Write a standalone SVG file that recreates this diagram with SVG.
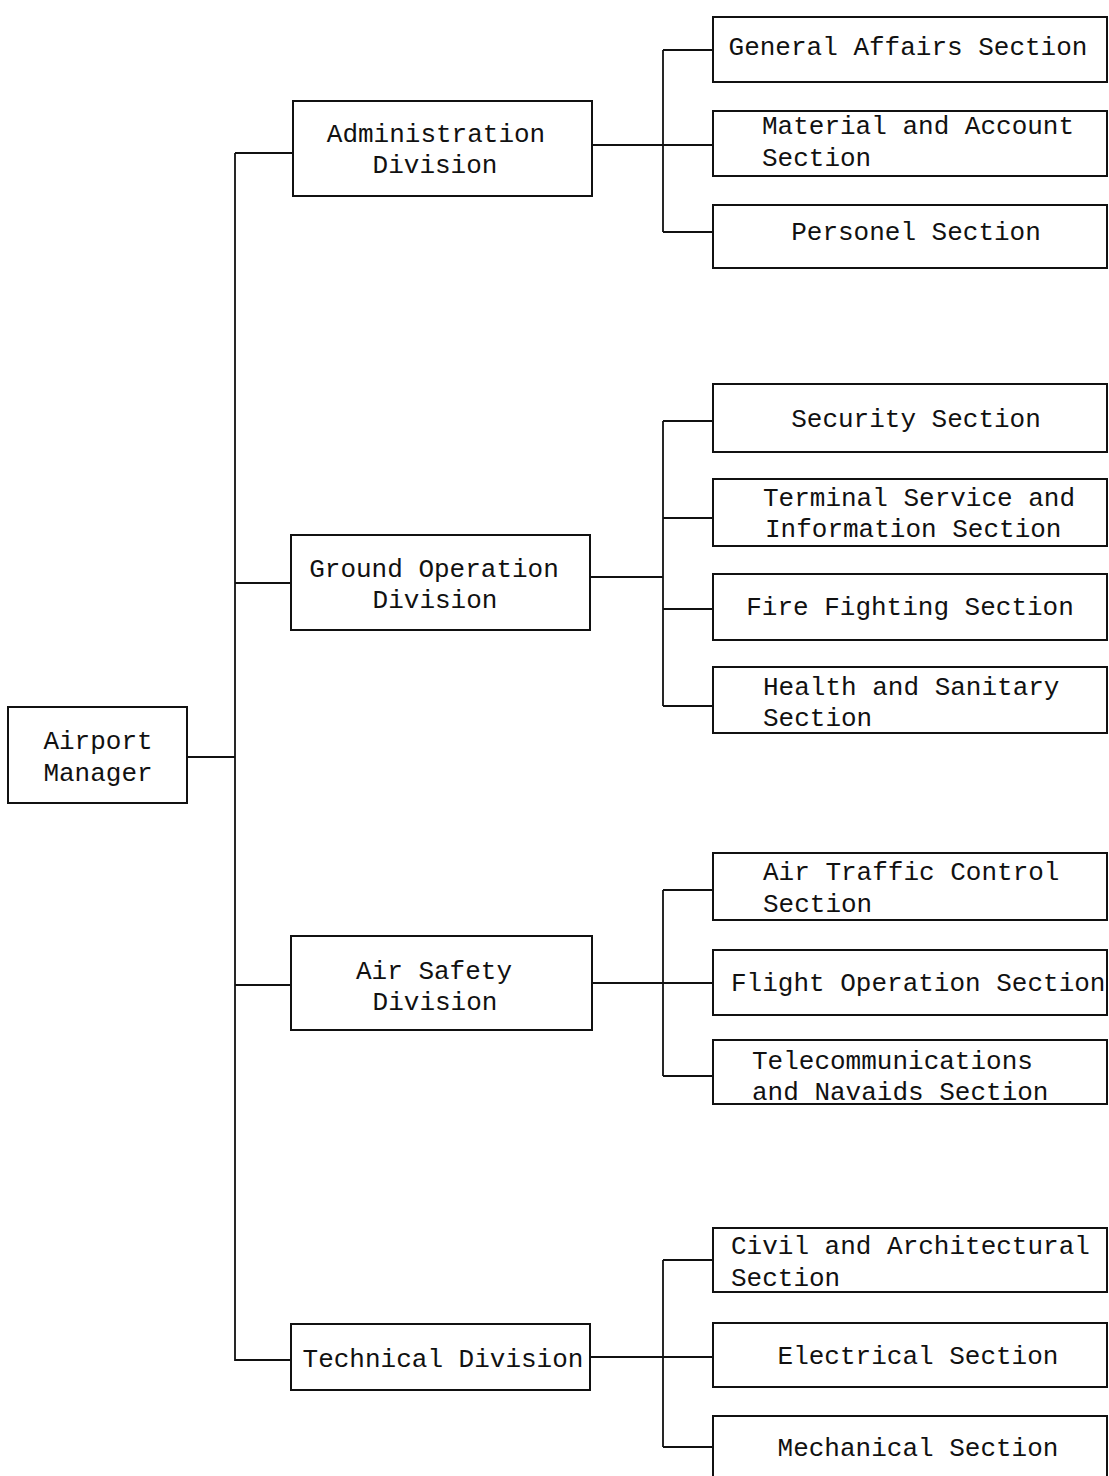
<svg xmlns="http://www.w3.org/2000/svg" width="1109" height="1476" viewBox="0 0 1109 1476">
<style>
.box{fill:#fff;stroke:#111;stroke-width:2}
.ln{fill:none;stroke:#111;stroke-width:1.8}
text{font-family:"Liberation Mono","DejaVu Sans Mono",monospace;font-size:26px;fill:#111}
.m{text-anchor:middle}
</style>
<rect width="1109" height="1476" fill="#fff"/>
<g id="connectors">
<path class="ln" d="M187 757H235M235 153V1360H291M235 153H293M235 583H291M235 985H291"/>
<path class="ln" d="M592 145H713M663 50V232M663 50H713M663 232H713"/>
<path class="ln" d="M590 577H663M663 421V706M663 421H713M663 518H713M663 609H713M663 706H713"/>
<path class="ln" d="M592 983H713M663 890V1076M663 890H713M663 1076H713"/>
<path class="ln" d="M590 1357H713M663 1260V1447M663 1260H713M663 1447H713"/>
</g>
<g id="airport-manager"><rect class="box" x="8" y="707" width="179" height="96"/><text class="m" x="98" y="749">Airport</text><text class="m" x="98" y="781">Manager</text></g>
<g id="administration-division"><rect class="box" x="293" y="101" width="299" height="95"/><text class="m" x="436" y="142">Administration</text><text class="m" x="435" y="173">Division</text></g>
<g id="general-affairs-section"><rect class="box" x="713" y="17" width="394" height="65"/><text class="m" x="908" y="55">General Affairs Section</text></g>
<g id="material-account-section"><rect class="box" x="713" y="111" width="394" height="65"/><text x="762" y="134">Material and Account</text><text x="762" y="166">Section</text></g>
<g id="personel-section"><rect class="box" x="713" y="205" width="394" height="63"/><text class="m" x="916" y="240">Personel Section</text></g>
<g id="ground-operation-division"><rect class="box" x="291" y="535" width="299" height="95"/><text class="m" x="434" y="577">Ground Operation</text><text class="m" x="435" y="608">Division</text></g>
<g id="security-section"><rect class="box" x="713" y="384" width="394" height="68"/><text class="m" x="916" y="427">Security Section</text></g>
<g id="terminal-service-section"><rect class="box" x="713" y="479" width="394" height="67"/><text x="763" y="506">Terminal Service and</text><text x="765" y="537">Information Section</text></g>
<g id="fire-fighting-section"><rect class="box" x="713" y="574" width="394" height="66"/><text class="m" x="910" y="615">Fire Fighting Section</text></g>
<g id="health-sanitary-section"><rect class="box" x="713" y="667" width="394" height="66"/><text x="763" y="695">Health and Sanitary</text><text x="763" y="726">Section</text></g>
<g id="air-safety-division"><rect class="box" x="291" y="936" width="301" height="94"/><text class="m" x="434" y="979">Air Safety</text><text class="m" x="435" y="1010">Division</text></g>
<g id="air-traffic-control-section"><rect class="box" x="713" y="853" width="394" height="67"/><text x="763" y="880">Air Traffic Control</text><text x="763" y="912">Section</text></g>
<g id="flight-operation-section"><rect class="box" x="713" y="950" width="394" height="65"/><text x="731" y="991">Flight Operation Section</text></g>
<g id="telecommunications-section"><rect class="box" x="713" y="1040" width="394" height="64"/><text x="752" y="1069">Telecommunications</text><text x="752" y="1100">and Navaids Section</text></g>
<g id="technical-division"><rect class="box" x="291" y="1324" width="299" height="66"/><text class="m" x="443" y="1367">Technical Division</text></g>
<g id="civil-architectural-section"><rect class="box" x="713" y="1228" width="394" height="64"/><text x="731" y="1254">Civil and Architectural</text><text x="731" y="1286">Section</text></g>
<g id="electrical-section"><rect class="box" x="713" y="1323" width="394" height="64"/><text class="m" x="918" y="1364">Electrical Section</text></g>
<g id="mechanical-section"><rect class="box" x="713" y="1416" width="394" height="66"/><text class="m" x="918" y="1456">Mechanical Section</text></g>
</svg>
